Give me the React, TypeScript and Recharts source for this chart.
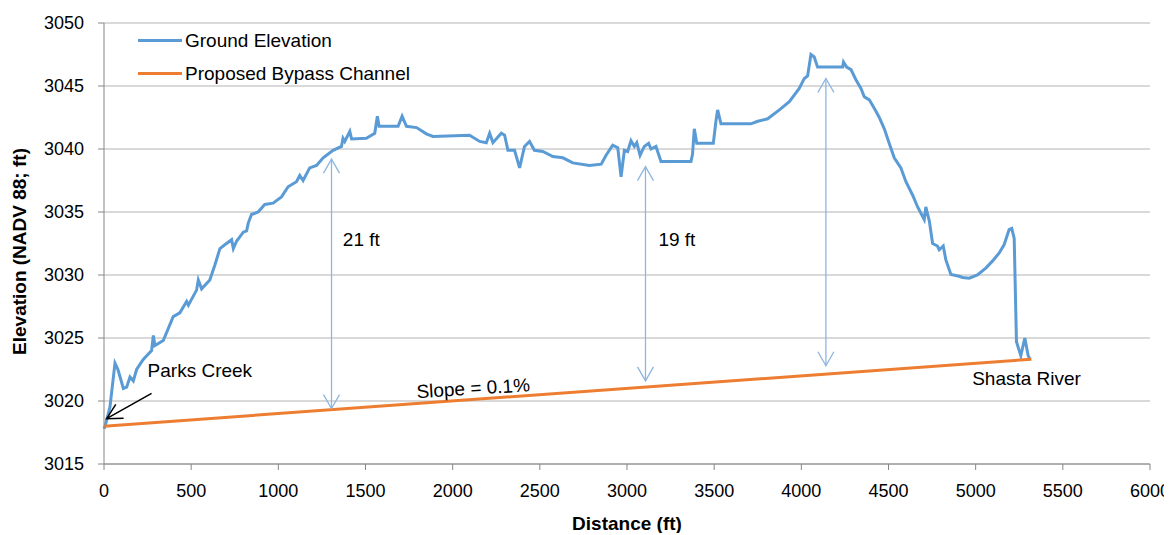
import { Legend, Line, LineChart, CartesianGrid, ReferenceDot, ReferenceLine, XAxis, YAxis } from "recharts";

const groundDistance = [
  0, 6, 34, 63, 80, 111, 130, 149, 168, 187, 225, 273, 283, 292, 340, 397, 435, 474, 484, 531, 541, 560, 607, 636, 665, 693,
  732, 742, 761, 799, 818, 827, 846, 884, 922, 970, 1018, 1056, 1104, 1123, 1142, 1180, 1219, 1257, 1314, 1362, 1371, 1381,
  1410, 1420, 1505, 1553, 1568, 1578, 1687, 1710, 1735, 1793, 1849, 1887, 2097, 2155, 2193, 2212, 2231, 2279, 2298, 2317,
  2355, 2384, 2412, 2441, 2469, 2517, 2575, 2632, 2689, 2785, 2852, 2880, 2918, 2947, 2966, 2985, 3004, 3023, 3042, 3056,
  3075, 3099, 3124, 3138, 3166, 3195, 3367, 3376, 3386, 3400, 3495, 3511, 3520, 3539, 3711, 3750, 3807, 3874, 3931, 3988,
  4017, 4036, 4055, 4074, 4093, 4237, 4242, 4260, 4285, 4313, 4342, 4361, 4390, 4428, 4447, 4476, 4504, 4533, 4571, 4600,
  4638, 4667, 4686, 4705, 4714, 4734, 4753, 4781, 4791, 4814, 4829, 4858, 4905, 4925, 4963, 5010, 5058, 5096, 5135, 5163,
  5192, 5207, 5221, 5234, 5259, 5282, 5301, 5310
];

const groundElevation = [
  3017.8, 3018.0, 3019.5, 3023.0, 3022.5, 3021.0, 3021.1, 3021.9, 3021.6, 3022.5, 3023.3, 3024.0, 3025.2, 3024.4, 3024.8,
  3026.7, 3027.0, 3027.9, 3027.6, 3028.8, 3029.6, 3028.9, 3029.6, 3030.8, 3032.1, 3032.4, 3032.8, 3032.1, 3032.7, 3033.4,
  3033.5, 3034.1, 3034.8, 3035.0, 3035.6, 3035.7, 3036.2, 3037.0, 3037.4, 3037.9, 3037.5, 3038.5, 3038.7, 3039.3, 3039.9,
  3040.2, 3040.85, 3040.6, 3041.4, 3040.8, 3040.85, 3041.25, 3042.6, 3041.8, 3041.8, 3042.6, 3041.8, 3041.7, 3041.2, 3041.0,
  3041.1, 3040.6, 3040.5, 3041.25, 3040.5, 3041.25, 3041.1, 3039.9, 3039.9, 3038.5, 3040.2, 3040.6, 3039.9, 3039.8, 3039.4,
  3039.3, 3038.9, 3038.7, 3038.8, 3039.5, 3040.3, 3040.1, 3037.8, 3039.9, 3039.8, 3040.65, 3040.2, 3040.5, 3039.5, 3040.2,
  3040.45, 3040.0, 3040.2, 3039.0, 3039.0, 3039.6, 3041.6, 3040.45, 3040.45, 3042.3, 3043.1, 3042.0, 3042.0, 3042.2, 3042.4,
  3043.1, 3043.75, 3044.8, 3045.6, 3045.8, 3047.5, 3047.3, 3046.5, 3046.5, 3046.9, 3046.5, 3046.3, 3045.5, 3044.8, 3044.15,
  3043.9, 3043.0, 3042.5, 3041.6, 3040.45, 3039.3, 3038.5, 3037.4, 3036.35, 3035.4, 3034.9, 3034.4, 3035.4, 3034.3, 3032.5,
  3032.3, 3032.0, 3032.3, 3031.2, 3030.05, 3029.9, 3029.8, 3029.75, 3030.0, 3030.55, 3031.1, 3031.75, 3032.4, 3033.6, 3033.7,
  3032.9, 3024.7, 3023.6, 3025.0, 3023.6, 3023.35
];

const channelDistance = [0, 5320];
const channelElevation = [3018.0, 3023.32];

const xTicks = [0, 500, 1000, 1500, 2000, 2500, 3000, 3500, 4000, 4500, 5000, 5500, 6000];
const yTicks = [3015, 3020, 3025, 3030, 3035, 3040, 3045, 3050];

// depth callouts: distance, channel end, ground end, text
const depthArrows = [
  { d: 1305, low: 3019.4, high: 3039.2, text: "21 ft", textD: 1370, textE: 3032.3 },
  { d: 3106, low: 3021.6, high: 3038.6, text: "19 ft", textD: 3180, textE: 3032.3 },
  { d: 4141, low: 3022.8, high: 3045.6, text: "", textD: 0, textE: 0 }
];

const placeLabels = [
  { d: 250, e: 3021.9, text: "Parks Creek", angle: 0, anchor: "start" },
  { d: 4980, e: 3021.3, text: "Shasta River", angle: 0, anchor: "start" },
  { d: 2120, e: 3020.5, text: "Slope = 0.1%", angle: -3.5, anchor: "middle" }
];

const legendItems = [
  { name: "Ground Elevation", color: "#5B9BD5" },
  { name: "Proposed Bypass Channel", color: "#ED7D31" }
];

const groundData = groundDistance.map((d, i) => ({ d, e: groundElevation[i] }));
const channelData = channelDistance.map((d, i) => ({ d, e: channelElevation[i] }));

const font = "'Liberation Sans', Arial, sans-serif";
const axisColor = "#868686";

function head(x: number, y: number, dx: number, dy: number, len: number, half: number) {
  const n = Math.hypot(dx, dy) || 1;
  const ux = dx / n;
  const uy = dy / n;
  const bx = x + ux * len;
  const by = y + uy * len;
  return `M${bx - uy * half},${by + ux * half} L${x},${y} L${bx + uy * half},${by - ux * half}`;
}

function DoubleArrow(props: any) {
  const { x1, y1, x2, y2 } = props;
  return (
    <g>
      <line x1={x1} y1={y1} x2={x2} y2={y2} stroke="#8DB6E0" strokeWidth={1.3} />
      <path d={head(x1, y1, x2 - x1, y2 - y1, 14, 8)} fill="none" stroke="#8DB6E0" strokeWidth={1.3} />
      <path d={head(x2, y2, x1 - x2, y1 - y2, 14, 8)} fill="none" stroke="#8DB6E0" strokeWidth={1.3} />
    </g>
  );
}

function PointerArrow(props: any) {
  const { x1, y1, x2, y2 } = props;
  return (
    <g>
      <line x1={x1} y1={y1} x2={x2} y2={y2} stroke="#000" strokeWidth={1.5} />
      <path d={head(x2, y2, x1 - x2, y1 - y2, 15, 8)} fill="none" stroke="#000" strokeWidth={1.5} />
    </g>
  );
}

function textShape(text: string, angle: number, anchor: string) {
  return (props: any) => (
    <text
      x={props.cx}
      y={props.cy}
      textAnchor={anchor}
      fontFamily={font}
      fontSize={19}
      fill="#000"
      transform={angle ? `rotate(${angle} ${props.cx} ${props.cy})` : undefined}
    >
      {text}
    </text>
  );
}

function LegendBox() {
  return (
    <div style={{ fontFamily: font, fontSize: 19, color: "#000" }}>
      {legendItems.map((item) => (
        <div key={item.name} style={{ display: "flex", alignItems: "center", height: 33 }}>
          <span style={{ display: "inline-block", width: 44, height: 3, background: item.color, marginRight: 3 }} />
          {item.name}
        </div>
      ))}
    </div>
  );
}

export default function App() {
  return (
    <div style={{ width: 1164, height: 525 }}>
      <LineChart width={1164} height={525} margin={{ top: 15, right: 22, bottom: 0, left: 0 }}>
        <CartesianGrid horizontal vertical={false} stroke="#B3B3B3" strokeWidth={1} />
        <XAxis
          type="number"
          dataKey="d"
          domain={[0, 6000]}
          ticks={xTicks}
          height={69}
          tick={{ fontSize: 18, fill: "#000", fontFamily: font }}
          tickSize={6}
          tickMargin={14}
          stroke={axisColor}
          label={{
            content: (p: any) => (
              <text x={p.viewBox.x + p.viewBox.width / 2} y={p.viewBox.y + 66} textAnchor="middle" fontFamily={font} fontSize={19} fontWeight="bold">
                Distance (ft)
              </text>
            )
          }}
        />
        <YAxis
          type="number"
          domain={[3015, 3050]}
          ticks={yTicks}
          width={96}
          allowDataOverflow
          tick={{ fontSize: 18, fill: "#000", fontFamily: font }}
          tickSize={6}
          tickMargin={14}
          stroke={axisColor}
          label={{
            content: (p: any) => {
              const cx = p.viewBox.x + 18;
              const cy = p.viewBox.y + p.viewBox.height / 2 + 8;
              return (
                <text x={cx} y={cy} textAnchor="middle" fontFamily={font} fontSize={19} fontWeight="bold" transform={`rotate(-90 ${cx} ${cy})`}>
                  Elevation (NADV 88; ft)
                </text>
              );
            }
          }}
        />
        <Legend layout="horizontal" verticalAlign="middle" align="center" wrapperStyle={{ top: 16, left: 130, width: "auto" }} content={<LegendBox />} />
        <Line data={groundData} dataKey="e" name="Ground Elevation" stroke="#5B9BD5" strokeWidth={3} dot={false} isAnimationActive={false} />
        <Line data={channelData} dataKey="e" name="Proposed Bypass Channel" stroke="#ED7D31" strokeWidth={3} dot={false} isAnimationActive={false} />
        {depthArrows.map((a) => (
          <ReferenceLine key={a.d} segment={[{ x: a.d, y: a.low }, { x: a.d, y: a.high }]} shape={DoubleArrow} />
        ))}
        {depthArrows
          .filter((a) => a.text)
          .map((a) => (
            <ReferenceDot key={a.text} x={a.textD} y={a.textE} shape={textShape(a.text, 0, "start")} />
          ))}
        <ReferenceLine segment={[{ x: 273, y: 3020.6 }, { x: 15, y: 3018.6 }]} shape={PointerArrow} />
        {placeLabels.map((l) => (
          <ReferenceDot key={l.text} x={l.d} y={l.e} shape={textShape(l.text, l.angle, l.anchor)} />
        ))}
      </LineChart>
    </div>
  );
}
